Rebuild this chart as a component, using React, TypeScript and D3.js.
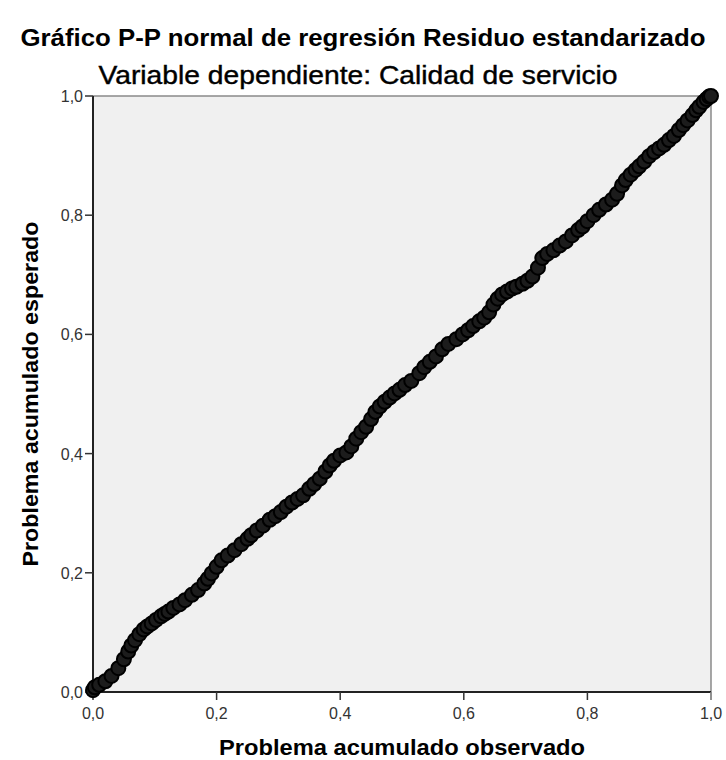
import React from "react";
import * as d3 from "d3";

// Observed cumulative probability of the standardized residuals
const observed = [
  0.0, 0.003, 0.01, 0.02, 0.03, 0.041, 0.05, 0.057, 0.062, 0.068, 0.075, 0.082, 0.088, 0.095,
  0.102, 0.11, 0.116, 0.122, 0.13, 0.14, 0.149, 0.16, 0.17, 0.18, 0.186, 0.192, 0.2, 0.208,
  0.218, 0.229, 0.24, 0.25, 0.256, 0.265, 0.275, 0.286, 0.295, 0.304, 0.313, 0.322, 0.331,
  0.34, 0.35, 0.358, 0.367, 0.376, 0.383, 0.39, 0.4, 0.41, 0.418, 0.426, 0.434, 0.442, 0.45,
  0.457, 0.464, 0.472, 0.48, 0.488, 0.496, 0.505, 0.515, 0.528, 0.536, 0.545, 0.555, 0.565,
  0.575, 0.588, 0.598, 0.607, 0.615, 0.625, 0.633, 0.641, 0.648, 0.655, 0.662, 0.67, 0.678,
  0.685, 0.695, 0.703, 0.711, 0.72, 0.727, 0.735, 0.745, 0.755, 0.765, 0.775, 0.785, 0.792,
  0.8, 0.81, 0.819, 0.83, 0.84, 0.848, 0.856, 0.862, 0.87, 0.878, 0.884, 0.892, 0.9, 0.908,
  0.916, 0.924, 0.932, 0.94, 0.948, 0.955, 0.962, 0.97, 0.976, 0.981, 0.988, 0.993, 0.997, 1.0,
];

// Expected cumulative probability under the normal distribution
const expected = [
  0.003, 0.008, 0.012, 0.018, 0.027, 0.04, 0.055, 0.068, 0.078, 0.087, 0.097, 0.105, 0.11, 0.115,
  0.121, 0.127, 0.131, 0.135, 0.141, 0.147, 0.154, 0.163, 0.171, 0.182, 0.19, 0.199, 0.21, 0.221,
  0.229, 0.238, 0.248, 0.257, 0.263, 0.271, 0.279, 0.289, 0.295, 0.302, 0.311, 0.318, 0.324,
  0.33, 0.341, 0.349, 0.358, 0.37, 0.38, 0.388, 0.397, 0.402, 0.412, 0.425, 0.436, 0.445, 0.458,
  0.47, 0.479, 0.487, 0.494, 0.501, 0.507, 0.515, 0.522, 0.535, 0.545, 0.554, 0.563, 0.575,
  0.584, 0.592, 0.6, 0.607, 0.614, 0.622, 0.628, 0.637, 0.65, 0.66, 0.667, 0.672, 0.677,
  0.68, 0.685, 0.69, 0.697, 0.712, 0.728, 0.735, 0.741, 0.749, 0.756, 0.766, 0.775, 0.781,
  0.79, 0.8, 0.809, 0.818, 0.826, 0.836, 0.85, 0.859, 0.868, 0.876, 0.882, 0.89, 0.899, 0.906,
  0.912, 0.918, 0.926, 0.933, 0.943, 0.951, 0.959, 0.968, 0.976, 0.982, 0.99, 0.995, 0.999, 1.0,
];

const tickValues = [0, 0.2, 0.4, 0.6, 0.8, 1.0];
const tickLabels = ["0,0", "0,2", "0,4", "0,6", "0,8", "1,0"];

const title = "Gráfico P-P normal de regresión Residuo estandarizado";
const subtitle = "Variable dependiente: Calidad de servicio";
const xTitle = "Problema acumulado observado";
const yTitle = "Problema acumulado esperado";

const W = 726;
const H = 760;
const left = 93;
const right = 711;
const top = 96;
const bottom = 692;
const font = "'Liberation Sans', Arial, sans-serif";

export default function App() {
  const x = d3.scaleLinear().domain([0, 1]).range([left, right]);
  const y = d3.scaleLinear().domain([0, 1]).range([bottom, top]);
  const points = observed.map((o, i) => ({ o, e: expected[i] }));

  return (
    <svg
      width={W}
      height={H}
      style={{ position: "absolute", left: 0, top: 0, background: "#fff" }}
      fontFamily={font}
    >
      {/* plot area */}
      <rect x={left} y={top} width={right - left} height={bottom - top} fill="#f0f0f0" />
      <line x1={left} x2={right} y1={top} y2={top} stroke="#8a8a8a" strokeWidth={1.5} />
      <line x1={right} x2={right} y1={top} y2={bottom + 8} stroke="#8a8a8a" strokeWidth={1.5} />

      {/* titles */}
      <text x={363} y={46} textAnchor="middle" fontSize={24} fontWeight="bold" fill="#000"
        textLength={685} lengthAdjust="spacingAndGlyphs">
        {title}
      </text>
      <text x={358} y={84} textAnchor="middle" fontSize={25} fill="#000"
        stroke="#000" strokeWidth={0.4}
        textLength={519} lengthAdjust="spacingAndGlyphs">
        {subtitle}
      </text>

      {/* y axis */}
      <line x1={left} x2={left} y1={top} y2={bottom} stroke="#222" strokeWidth={2} />
      {tickValues.map((t, i) => (
        <g key={"y" + i}>
          <line x1={left - 8} x2={left} y1={y(t)} y2={y(t)} stroke="#333" strokeWidth={1.5} />
          <text x={left - 10} y={y(t) + 6} textAnchor="end" fontSize={16} fill="#333">
            {tickLabels[i]}
          </text>
        </g>
      ))}

      {/* x axis */}
      <line x1={left} x2={right} y1={bottom} y2={bottom} stroke="#222" strokeWidth={2} />
      {tickValues.map((t, i) => (
        <g key={"x" + i}>
          <line x1={x(t)} x2={x(t)} y1={bottom} y2={bottom + 8} stroke={i === 5 ? "#8a8a8a" : "#333"} strokeWidth={1.5} />
          <text x={x(t)} y={bottom + 27} textAnchor="middle" fontSize={16} fill="#333">
            {tickLabels[i]}
          </text>
        </g>
      ))}

      {/* axis titles */}
      <text x={(left + right) / 2} y={755} textAnchor="middle" fontSize={22} fontWeight="bold"
        fill="#000" textLength={366} lengthAdjust="spacingAndGlyphs">
        {xTitle}
      </text>
      <text transform={`translate(38, ${(top + bottom) / 2}) rotate(-90)`} textAnchor="middle"
        fontSize={22} fontWeight="bold" fill="#000" textLength={345} lengthAdjust="spacingAndGlyphs">
        {yTitle}
      </text>

      {/* points */}
      <g>
        {points.map((p, i) => (
          <circle key={i} cx={x(p.o)} cy={y(p.e)} r={7} fill="#1c1c1c" stroke="#000" strokeWidth={2} />
        ))}
      </g>
    </svg>
  );
}
